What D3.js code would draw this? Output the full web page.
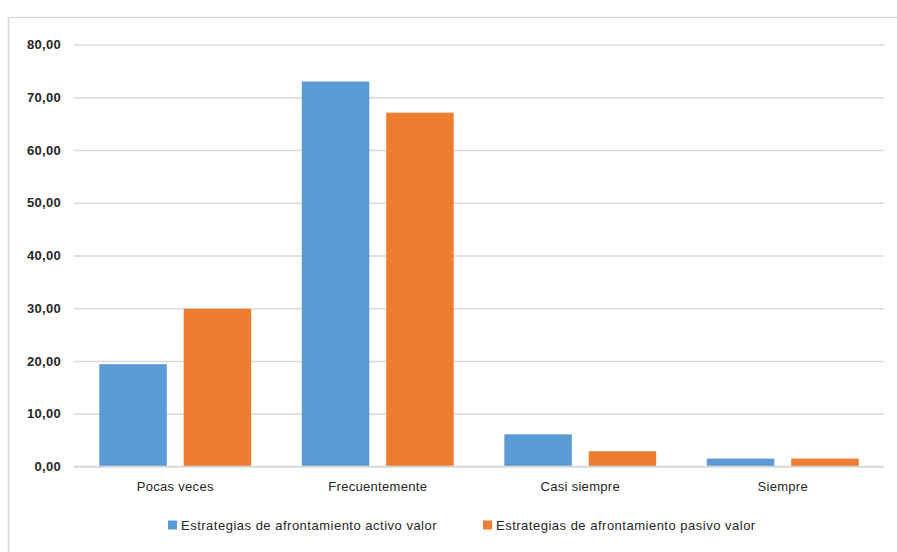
<!DOCTYPE html>
<html>
<head>
<meta charset="utf-8">
<script src="https://cdn.jsdelivr.net/npm/d3@7"></script>
<style>
  body { margin: 0; background: #fff; }
  text { font-family: "Liberation Sans", Arial, sans-serif; fill: #262626; }
</style>
</head>
<body>
<div id="chart"></div>
<script>
const svgWidth = 897;
const svgHeight = 552;

// data
const categories = ["Pocas veces", "Frecuentemente", "Casi siempre", "Siempre"];
const seriesNames = ["Estrategias de afrontamiento activo valor", "Estrategias de afrontamiento pasivo valor"];
const activoValues = [19.4, 73.0, 6.1, 1.5];
const pasivoValues = [29.9, 67.1, 2.9, 1.5];
const yTicks = [0, 10, 20, 30, 40, 50, 60, 70, 80];
const colors = ["#5b9bd5", "#ed7d31"];

const margin = { top: 44.6, right: 13, bottom: 85.5, left: 74 };
const chartWidth = svgWidth - margin.left - margin.right;
const chartHeight = svgHeight - margin.top - margin.bottom;

const svg = d3.select("#chart").append("svg")
    .attr("width", svgWidth)
    .attr("height", svgHeight);

// outer frame of the chart area
svg.append("rect")
    .attr("x", 8.5)
    .attr("y", 17.5)
    .attr("width", svgWidth)
    .attr("height", svgHeight)
    .attr("fill", "none")
    .attr("stroke", "#d9d9d9")
    .attr("stroke-width", 1.5);

const chartGroup = svg.append("g")
    .attr("transform", `translate(${margin.left}, ${margin.top})`);

const xScale = d3.scaleBand()
    .domain(categories)
    .range([0, chartWidth]);

const xInner = d3.scaleBand()
    .domain(seriesNames)
    .range([0, xScale.bandwidth()])
    .paddingInner(0.2)
    .paddingOuter(0.3);

const yScale = d3.scaleLinear()
    .domain([0, 80])
    .range([chartHeight, 0]);

const yAxis = d3.axisLeft(yScale)
    .tickValues(yTicks)
    .tickSize(-chartWidth)
    .tickPadding(13)
    .tickFormat(d => d3.format(".2f")(d).replace(".", ","));

const yAxisG = chartGroup.append("g").call(yAxis);
yAxisG.select(".domain").remove();
yAxisG.selectAll("line")
    .attr("stroke", "#d9d9d9")
    .attr("stroke-width", 1.5);
yAxisG.selectAll("text")
    .attr("font-size", "13px")
    .attr("font-weight", "bold")
    .attr("letter-spacing", "0.3px")
    .style("fill", "#262626");

const xAxis = d3.axisBottom(xScale)
    .tickSize(0)
    .tickPadding(15);

const xAxisG = chartGroup.append("g")
    .attr("transform", `translate(0, ${chartHeight})`)
    .call(xAxis);
xAxisG.select(".domain").remove();
xAxisG.selectAll("text")
    .attr("font-size", "13px")
    .attr("letter-spacing", "0.3px")
    .style("fill", "#262626");

const table = categories.map((c, i) => ({
    category: c,
    values: [activoValues[i], pasivoValues[i]]
}));

const groups = chartGroup.selectAll(".cat").data(table)
    .enter().append("g")
    .attr("transform", d => `translate(${xScale(d.category)}, 0)`);

groups.selectAll("rect")
    .data(d => d.values.map((v, j) => ({ series: seriesNames[j], value: v, idx: j })))
    .enter().append("rect")
    .attr("x", d => xInner(d.series))
    .attr("y", d => yScale(d.value))
    .attr("width", xInner.bandwidth())
    .attr("height", d => chartHeight - yScale(d.value))
    .attr("fill", d => colors[d.idx]);

// redraw the zero line over the bars
chartGroup.append("line")
    .attr("x1", 0).attr("x2", chartWidth)
    .attr("y1", yScale(0)).attr("y2", yScale(0))
    .attr("stroke", "#d9d9d9")
    .attr("stroke-width", 1.5);

// legend
const legendX = [168, 483];
const legend = svg.selectAll(".legend").data(seriesNames)
    .enter().append("g")
    .attr("transform", (d, i) => `translate(${legendX[i]}, 525)`);

legend.append("rect")
    .attr("x", 0)
    .attr("y", -4.5)
    .attr("width", 9)
    .attr("height", 9)
    .attr("fill", (d, i) => colors[i]);

legend.append("text")
    .attr("x", 13)
    .attr("y", 0)
    .attr("dominant-baseline", "central")
    .attr("font-size", "13px")
    .attr("letter-spacing", "0.5px")
    .style("fill", "#262626")
    .text(d => d);
</script>
</body>
</html>
